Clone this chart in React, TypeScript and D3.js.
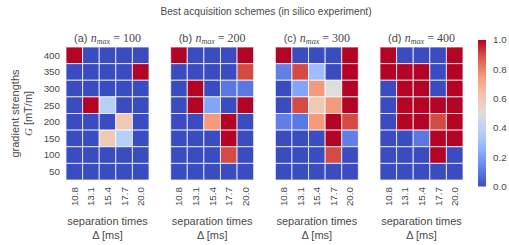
import React from "react";
import * as d3 from "d3";

// rows are gradient strengths (top to bottom), columns are separation times
const gradients = [400, 350, 300, 250, 200, 150, 100, 50];
const separations = ["10.8", "13.1", "15.4", "17.7", "20.0"];
const panelLabels = ["(a)", "(b)", "(c)", "(d)"];
const nMax = [100, 200, 300, 400];

const schemeA = [
  [1, 0, 0, 0, 0],
  [0, 0, 0, 0, 1],
  [0, 0, 0, 0, 0],
  [0, 1, 0.37, 0, 0],
  [0, 0, 0, 0.6, 0],
  [0, 0, 0.6, 0.37, 0],
  [0, 0, 0, 0, 0],
  [0, 0, 0, 0, 0],
];
const schemeB = [
  [1, 0, 0, 0, 1],
  [0, 0, 0, 0, 0.9],
  [0, 1, 0, 0.1, 0.1],
  [0, 1, 0.22, 0, 1],
  [0, 0, 0.75, 1, 0],
  [0, 0, 0, 1, 0],
  [0, 0, 0, 0.9, 0],
  [0, 0, 0, 0, 0],
];
const schemeC = [
  [1, 0, 0, 0, 1],
  [0.12, 0.9, 0.3, 0, 1],
  [0, 0.22, 0.75, 0.5, 1],
  [0, 0.9, 0.6, 0.75, 1],
  [0.12, 0.1, 0.75, 1, 0.9],
  [0, 0, 0, 1, 0.12],
  [0, 0, 0, 0.9, 0],
  [0, 0, 0, 0, 0],
];
const schemeD = [
  [1, 0, 0, 0, 1],
  [1, 1, 1, 0, 1],
  [0, 1, 1, 0, 1],
  [0, 1, 1, 1, 1],
  [0, 1, 1, 0.9, 1],
  [0, 0, 0.1, 1, 1],
  [0, 0, 0, 1, 0],
  [0, 0, 0, 0, 0],
];
const schemes = [schemeA, schemeB, schemeC, schemeD];
const cbarTicks = [0, 0.2, 0.4, 0.6, 0.8, 1.0];

// approximation of matplotlib's coolwarm
const coolwarm = d3
  .scaleLinear<string>()
  .domain([0, 0.125, 0.25, 0.375, 0.5, 0.625, 0.75, 0.875, 1])
  .range(["#3b4cc0", "#6282ea", "#8db0fe", "#b8d0f9", "#dddddd", "#f5c4ac", "#f49a7b", "#dc5d4a", "#b40426"])
  .interpolate(d3.interpolateRgb);

const W = 509;
const H = 245;
const top = 47;
const bottom = 180;
const textColor = "#4a4a4a";
const sans = "'Liberation Sans', Arial, sans-serif";
const serif = "'Liberation Serif', 'DejaVu Serif', serif";

export default function App() {
  const panelX = d3.scaleBand<number>().domain([0, 1, 2, 3]).range([66, 463]).paddingInner(0.207);
  const pw = panelX.bandwidth();
  const yScale = d3.scaleBand<number>().domain(gradients).range([top, bottom]);
  const cbY = d3.scaleLinear().domain([0, 1]).range([186.5, 40]);
  const gradStops = d3.range(0, 1.0001, 0.05);

  return (
    <svg width={W} height={H} style={{ position: "absolute", left: 0, top: 0, background: "#fff" }}>
      <text x={266} y={15} textAnchor="middle" fontFamily={sans} fontSize={10.2} fill={textColor}>
        Best acquisition schemes (in silico experiment)
      </text>

      {/* y axis */}
      {gradients.map((g) => (
        <text key={g} x={60} y={(yScale(g) ?? 0) + yScale.bandwidth() / 2} dy="0.35em" textAnchor="end"
          fontFamily={sans} fontSize={9.8} fill={textColor}>
          {g}
        </text>
      ))}
      <text transform={`translate(19,${(top + bottom) / 2}) rotate(-90)`} textAnchor="middle"
        fontFamily={sans} fontSize={11} fill={textColor}>
        gradient strengths
      </text>
      <text transform={`translate(32,${(top + bottom) / 2}) rotate(-90)`} textAnchor="middle"
        fontFamily={sans} fontSize={11} fill={textColor}>
        <tspan fontFamily={serif} fontStyle="italic">G</tspan> [mT/m]
      </text>

      {schemes.map((scheme, p) => {
        const x0 = panelX(p) ?? 0;
        const xScale = d3.scaleBand<string>().domain(separations).range([x0, x0 + pw]);
        const cx = x0 + pw / 2;
        return (
          <g key={p}>
            <text x={cx} y={42} textAnchor="middle" fontSize={12} fill={textColor} fontFamily={sans}>
              <tspan fontSize={11}>{panelLabels[p]}</tspan>{" "}
              <tspan fontFamily={serif} fontStyle="italic">n</tspan>
              <tspan fontFamily={serif} fontStyle="italic" fontSize={8} dy={2}>max</tspan>
              <tspan fontFamily={serif} dy={-2}> = {nMax[p]}</tspan>
            </text>
            {scheme.map((row, r) =>
              row.map((v, c) => (
                <rect key={`${r}-${c}`} x={xScale(separations[c])} y={yScale(gradients[r])}
                  width={xScale.bandwidth()} height={yScale.bandwidth()} fill={coolwarm(v)}
                  stroke="#fff" strokeOpacity={0.75} strokeWidth={1} />
              ))
            )}
            {separations.map((s) => (
              <text key={s} transform={`translate(${(xScale(s) ?? 0) + xScale.bandwidth() / 2},187) rotate(-90)`}
                dy="0.35em" textAnchor="end" fontFamily={sans} fontSize={9.8} fill={textColor}>
                {s}
              </text>
            ))}
            <text x={cx} y={225} textAnchor="middle" fontFamily={sans} fontSize={11} fill={textColor}>
              separation times
            </text>
            <text x={cx} y={239} textAnchor="middle" fontFamily={sans} fontSize={11} fill={textColor}>
              Δ [ms]
            </text>
          </g>
        );
      })}

      {/* colorbar */}
      <defs>
        <linearGradient id="cw" x1="0" y1="1" x2="0" y2="0">
          {gradStops.map((t) => (
            <stop key={t} offset={`${t * 100}%`} stopColor={coolwarm(t)} />
          ))}
        </linearGradient>
      </defs>
      <rect x={478} y={cbY(1)} width={8} height={cbY(0) - cbY(1)} fill="url(#cw)" />
      {cbarTicks.map((t) => (
        <text key={t} x={493} y={cbY(t)} dy="0.35em" fontFamily={sans} fontSize={9.8} fill={textColor}>
          {t.toFixed(1)}
        </text>
      ))}
    </svg>
  );
}
